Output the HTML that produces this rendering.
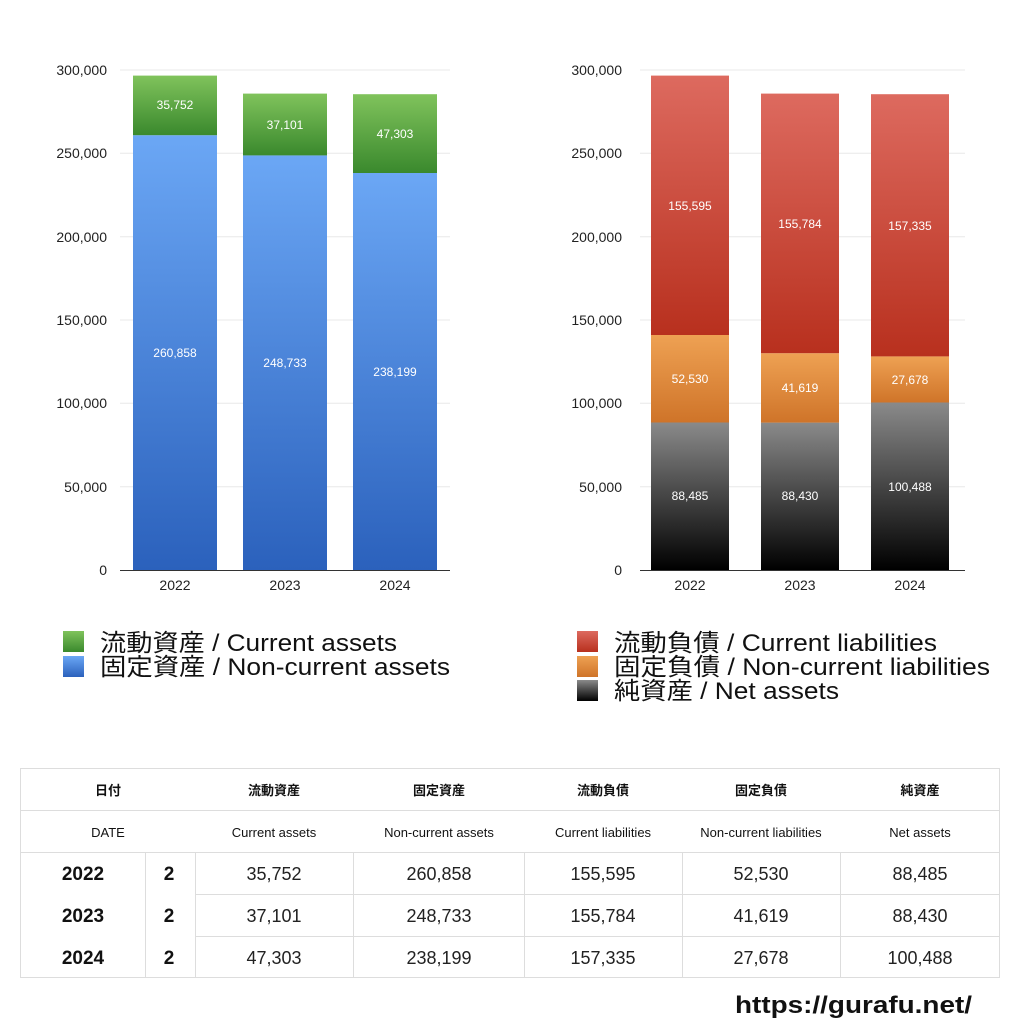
<!DOCTYPE html>
<html><head><meta charset="utf-8"><style>
body{margin:0;background:#fff;}
svg text{font-family:"Liberation Sans","Noto Sans CJK JP",sans-serif;}
</style></head><body>
<svg width="1024" height="1024" viewBox="0 0 1024 1024" xmlns="http://www.w3.org/2000/svg">
<defs>
<linearGradient id="gb" x1="0" y1="0" x2="0" y2="1"><stop offset="0" stop-color="#6ba7f5"/><stop offset="1" stop-color="#2b61bc"/></linearGradient>
<linearGradient id="gg" x1="0" y1="0" x2="0" y2="1"><stop offset="0" stop-color="#80c35c"/><stop offset="1" stop-color="#3a892d"/></linearGradient>
<linearGradient id="gr" x1="0" y1="0" x2="0" y2="1"><stop offset="0" stop-color="#dd6a5f"/><stop offset="1" stop-color="#b8301e"/></linearGradient>
<linearGradient id="go" x1="0" y1="0" x2="0" y2="1"><stop offset="0" stop-color="#eea153"/><stop offset="1" stop-color="#cf7429"/></linearGradient>
<linearGradient id="gk" x1="0" y1="0" x2="0" y2="1"><stop offset="0" stop-color="#8a8a8a"/><stop offset="1" stop-color="#000"/></linearGradient>
</defs>
<g stroke="#e8e8e8" stroke-width="1">
<line x1="120" y1="70" x2="450" y2="70"/><line x1="120" y1="153.3" x2="450" y2="153.3"/><line x1="120" y1="236.7" x2="450" y2="236.7"/><line x1="120" y1="320" x2="450" y2="320"/><line x1="120" y1="403.3" x2="450" y2="403.3"/><line x1="120" y1="486.7" x2="450" y2="486.7"/>
<line x1="640" y1="70" x2="965" y2="70"/><line x1="640" y1="153.3" x2="965" y2="153.3"/><line x1="640" y1="236.7" x2="965" y2="236.7"/><line x1="640" y1="320" x2="965" y2="320"/><line x1="640" y1="403.3" x2="965" y2="403.3"/><line x1="640" y1="486.7" x2="965" y2="486.7"/>
</g>
<g font-size="14" fill="#222" text-anchor="end">
<text x="107" y="75">300,000</text><text x="107" y="158">250,000</text><text x="107" y="242">200,000</text><text x="107" y="325">150,000</text><text x="107" y="408">100,000</text><text x="107" y="492">50,000</text><text x="107" y="575">0</text>
<text x="622" y="75">300,000</text><text x="622" y="158">250,000</text><text x="622" y="242">200,000</text><text x="622" y="325">150,000</text><text x="622" y="408">100,000</text><text x="622" y="492">50,000</text><text x="622" y="575">0</text>
</g>
<rect x="133" y="135.2" width="84" height="434.8" fill="url(#gb)"/><rect x="133" y="75.6" width="84" height="59.6" fill="url(#gg)"/>
<rect x="243" y="155.4" width="84" height="414.6" fill="url(#gb)"/><rect x="243" y="93.6" width="84" height="61.8" fill="url(#gg)"/>
<rect x="353" y="173" width="84" height="397" fill="url(#gb)"/><rect x="353" y="94.2" width="84" height="78.8" fill="url(#gg)"/>
<rect x="651" y="422.5" width="78" height="147.5" fill="url(#gk)"/><rect x="651" y="335" width="78" height="87.5" fill="url(#go)"/><rect x="651" y="75.6" width="78" height="259.4" fill="url(#gr)"/>
<rect x="761" y="422.6" width="78" height="147.4" fill="url(#gk)"/><rect x="761" y="353.2" width="78" height="69.4" fill="url(#go)"/><rect x="761" y="93.6" width="78" height="259.6" fill="url(#gr)"/>
<rect x="871" y="402.5" width="78" height="167.5" fill="url(#gk)"/><rect x="871" y="356.4" width="78" height="46.1" fill="url(#go)"/><rect x="871" y="94.2" width="78" height="262.2" fill="url(#gr)"/>
<line x1="120" y1="570.5" x2="450" y2="570.5" stroke="#333"/><line x1="640" y1="570.5" x2="965" y2="570.5" stroke="#333"/>
<g font-size="12" fill="#fff" text-anchor="middle">
<text x="175" y="109">35,752</text><text x="175" y="357">260,858</text>
<text x="285" y="129">37,101</text><text x="285" y="367">248,733</text>
<text x="395" y="138">47,303</text><text x="395" y="376">238,199</text>
<text x="690" y="210">155,595</text><text x="690" y="383">52,530</text><text x="690" y="500">88,485</text>
<text x="800" y="228">155,784</text><text x="800" y="392">41,619</text><text x="800" y="500">88,430</text>
<text x="910" y="230">157,335</text><text x="910" y="384">27,678</text><text x="910" y="491">100,488</text>
</g>
<g font-size="14" fill="#222" text-anchor="middle">
<text x="175" y="590">2022</text><text x="285" y="590">2023</text><text x="395" y="590">2024</text>
<text x="690" y="590">2022</text><text x="800" y="590">2023</text><text x="910" y="590">2024</text>
</g>
<rect x="63" y="631" width="21" height="21" fill="url(#gg)"/><rect x="63" y="656" width="21" height="21" fill="url(#gb)"/>
<rect x="577" y="631" width="21" height="21" fill="url(#gr)"/><rect x="577" y="656" width="21" height="21" fill="url(#go)"/><rect x="577" y="680" width="21" height="21" fill="url(#gk)"/>
<g font-size="24" fill="#111">
<text x="100" y="651" textLength="297" lengthAdjust="spacingAndGlyphs">流動資産 / Current assets</text><text x="100" y="675" textLength="350" lengthAdjust="spacingAndGlyphs">固定資産 / Non-current assets</text>
<text x="614" y="651" textLength="323" lengthAdjust="spacingAndGlyphs">流動負債 / Current liabilities</text><text x="614" y="675" textLength="376" lengthAdjust="spacingAndGlyphs">固定負債 / Non-current liabilities</text><text x="614" y="699" textLength="225" lengthAdjust="spacingAndGlyphs">純資産 / Net assets</text>
</g>
<g stroke="#ddd" stroke-width="1" fill="none">
<rect x="20.5" y="768.5" width="979" height="209"/>
<line x1="20" y1="810.5" x2="1000" y2="810.5"/><line x1="20" y1="852.5" x2="1000" y2="852.5"/>
<line x1="195" y1="894.5" x2="1000" y2="894.5"/><line x1="195" y1="936.5" x2="1000" y2="936.5"/>
<line x1="145.5" y1="852" x2="145.5" y2="978"/><line x1="195.5" y1="852" x2="195.5" y2="978"/>
<line x1="353.5" y1="852" x2="353.5" y2="978"/><line x1="524.5" y1="852" x2="524.5" y2="978"/><line x1="682.5" y1="852" x2="682.5" y2="978"/><line x1="840.5" y1="852" x2="840.5" y2="978"/>
</g>
<g font-size="13" font-weight="bold" fill="#111" text-anchor="middle">
<text x="108" y="795">日付</text><text x="274" y="795">流動資産</text><text x="439" y="795">固定資産</text><text x="603" y="795">流動負債</text><text x="761" y="795">固定負債</text><text x="920" y="795">純資産</text>
</g>
<g font-size="13" fill="#111" text-anchor="middle">
<text x="108" y="837">DATE</text><text x="274" y="837">Current assets</text><text x="439" y="837">Non-current assets</text><text x="603" y="837">Current liabilities</text><text x="761" y="837">Non-current liabilities</text><text x="920" y="837">Net assets</text>
</g>
<g font-size="19" font-weight="bold" fill="#111" text-anchor="middle">
<text x="83" y="880">2022</text><text x="169" y="880">2</text>
<text x="83" y="922">2023</text><text x="169" y="922">2</text>
<text x="83" y="964">2024</text><text x="169" y="964">2</text>
</g>
<g font-size="18" fill="#222" text-anchor="middle">
<text x="274" y="880">35,752</text><text x="439" y="880">260,858</text><text x="603" y="880">155,595</text><text x="761" y="880">52,530</text><text x="920" y="880">88,485</text>
<text x="274" y="922">37,101</text><text x="439" y="922">248,733</text><text x="603" y="922">155,784</text><text x="761" y="922">41,619</text><text x="920" y="922">88,430</text>
<text x="274" y="964">47,303</text><text x="439" y="964">238,199</text><text x="603" y="964">157,335</text><text x="761" y="964">27,678</text><text x="920" y="964">100,488</text>
</g>
<text x="735" y="1013" font-size="24" font-weight="bold" fill="#111" textLength="237" lengthAdjust="spacingAndGlyphs">https://gurafu.net/</text>
</svg>
</body></html>
